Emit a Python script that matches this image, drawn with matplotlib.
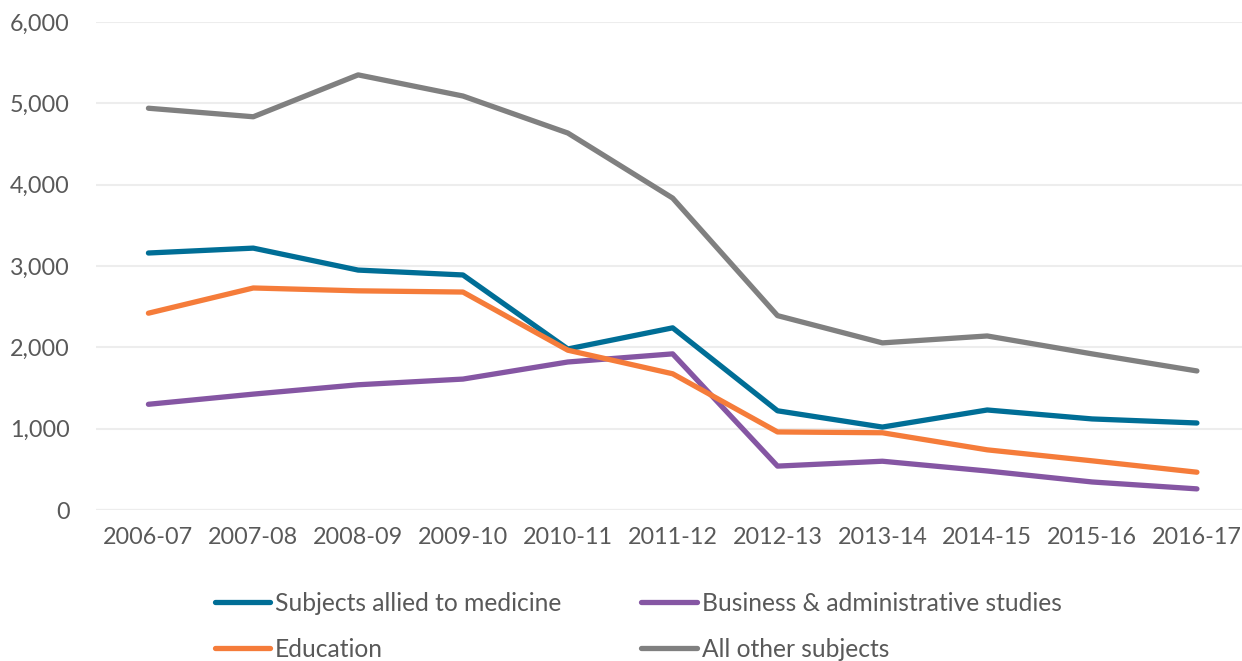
import matplotlib
matplotlib.use('Agg')
import matplotlib.pyplot as plt
import matplotlib.ticker as mtick

# academic years on the x axis
years = ['2006-07', '2007-08', '2008-09', '2009-10', '2010-11', '2011-12',
         '2012-13', '2013-14', '2014-15', '2015-16', '2016-17']

# values
allied_medicine = [3160, 3220, 2950, 2890, 1980, 2240, 1220, 1020, 1230, 1120, 1070]
business_admin = [1300, 1425, 1540, 1610, 1820, 1920, 540, 600, 480, 345, 260]
education = [2420, 2730, 2695, 2680, 1965, 1675, 960, 950, 740, 605, 465]
all_other = [4940, 4835, 5350, 5090, 4635, 3835, 2390, 2055, 2140, 1920, 1710]

plt.rcParams['font.family'] = ['Lato', 'DejaVu Sans']
text_col = '#595959'

fig = plt.figure(figsize=(12.42, 6.61), dpi=100)
ax = fig.add_axes([0.0773, 0.2284, 0.9227, 0.7383])

x = range(len(years))
lw = 3.8
l1, = ax.plot(x, allied_medicine, color='#006E96', lw=lw, solid_capstyle='round',
              label='Subjects allied to medicine', zorder=3)
l3, = ax.plot(x, business_admin, color='#8556A3', lw=lw, solid_capstyle='round',
              label='Business & administrative studies', zorder=3)
l2, = ax.plot(x, education, color='#F57C3A', lw=lw, solid_capstyle='round',
              label='Education', zorder=3)
l4, = ax.plot(x, all_other, color='#808080', lw=lw, solid_capstyle='round',
              label='All other subjects', zorder=3)

ax.set_ylim(0, 6000)
ax.set_xlim(-0.5, 10.43)
ax.set_yticks(range(0, 6001, 1000))
ax.yaxis.set_major_formatter(mtick.FuncFormatter(lambda v, p: f'{int(v):,}'))
ax.set_xticks(list(x))
ax.set_xticklabels(years)

ax.grid(axis='y', color='#EDEDED', lw=1.5, zorder=0)
ax.axhline(0, color='#D9D9D9', lw=1.5, zorder=1)
for s in ax.spines.values():
    s.set_visible(False)
ax.tick_params(axis='both', length=0, labelsize=16.8, labelcolor=text_col)
ax.tick_params(axis='y', pad=19)
ax.tick_params(axis='x', pad=12)

# legend sits below the axes; the second row is clipped by the figure edge as in the original
fig.legend(handles=[l1, l2, l3, l4], ncols=2, loc='upper left',
           bbox_to_anchor=(0.173, 0.105), frameon=False, fontsize=17.7,
           labelcolor=text_col, handlelength=2.25, handletextpad=0.2,
           columnspacing=3.25, labelspacing=0.95, borderpad=0, borderaxespad=0)

fig.savefig('out.png', dpi=100)
